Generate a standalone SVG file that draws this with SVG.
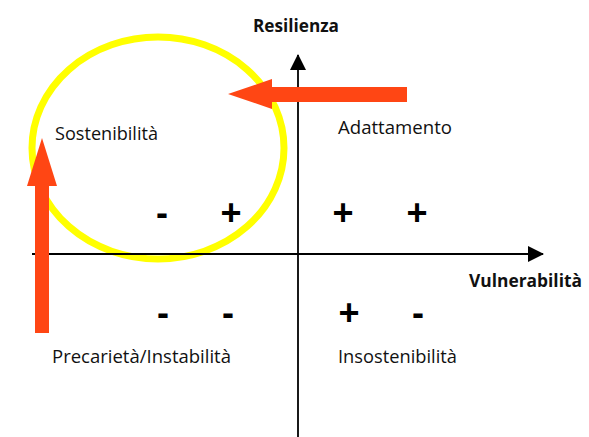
<svg xmlns="http://www.w3.org/2000/svg" width="589" height="437" viewBox="0 0 589 437">
<style>
.lbl{font-family:"Open Sans","Liberation Sans",sans-serif;font-size:18px;fill:#111}
.ax{font-family:"Open Sans","Liberation Sans",sans-serif;font-size:17.5px;font-weight:bold;fill:#111}
.sg{font-family:"Liberation Sans",Arial,sans-serif;font-size:36px;font-weight:bold;fill:#000;text-anchor:middle}
.axis{stroke:#000;stroke-width:1.8;fill:none}
.red{fill:#FF4614}
</style>
<defs>
<marker id="ah" viewBox="0 0 16 16" refX="15" refY="8" markerWidth="16" markerHeight="16" markerUnits="userSpaceOnUse" orient="auto">
<path d="M0,0 L16,8 L0,16 Z" fill="#000"/>
</marker>
</defs>
<rect width="589" height="437" fill="#fff"/>
<g id="circle">
<ellipse cx="158" cy="148" rx="126" ry="111" fill="none" stroke="#FFFF00" stroke-width="7"/>
</g>
<g id="connectors">
<line class="axis" x1="298" y1="437" x2="298" y2="55" marker-end="url(#ah)"/>
<line class="axis" x1="32" y1="254" x2="543" y2="254" marker-end="url(#ah)"/>
<path class="red" d="M407,87 L272,87 L272,79 L228,94 L272,109 L272,102 L407,102 Z"/>
<path class="red" d="M35,333 L35,186 L27,186 L42,138 L57,186 L49,186 L49,333 Z"/>
</g>
<g id="axis-y-label"><text class="ax" x="253" y="32" textLength="86" lengthAdjust="spacingAndGlyphs">Resilienza</text></g>
<g id="axis-x-label"><text class="ax" x="469" y="287" textLength="113" lengthAdjust="spacingAndGlyphs">Vulnerabilità</text></g>
<g id="q-sostenibilita"><text class="lbl" x="55" y="140" textLength="103" lengthAdjust="spacingAndGlyphs">Sostenibilità</text></g>
<g id="q-adattamento"><text class="lbl" x="338" y="134" textLength="114" lengthAdjust="spacingAndGlyphs">Adattamento</text></g>
<g id="q-precarieta"><text class="lbl" x="52" y="363" textLength="179" lengthAdjust="spacingAndGlyphs">Precarietà/Instabilità</text></g>
<g id="q-insostenibilita"><text class="lbl" x="338" y="363" textLength="119" lengthAdjust="spacingAndGlyphs">Insostenibilità</text></g>
<g id="signs">
<text class="sg" x="162" y="225">-</text>
<text class="sg" x="231" y="225">+</text>
<text class="sg" x="343" y="225">+</text>
<text class="sg" x="417" y="225">+</text>
<text class="sg" x="163" y="325">-</text>
<text class="sg" x="228" y="325">-</text>
<text class="sg" x="349" y="325">+</text>
<text class="sg" x="418" y="325">-</text>
</g>
</svg>
